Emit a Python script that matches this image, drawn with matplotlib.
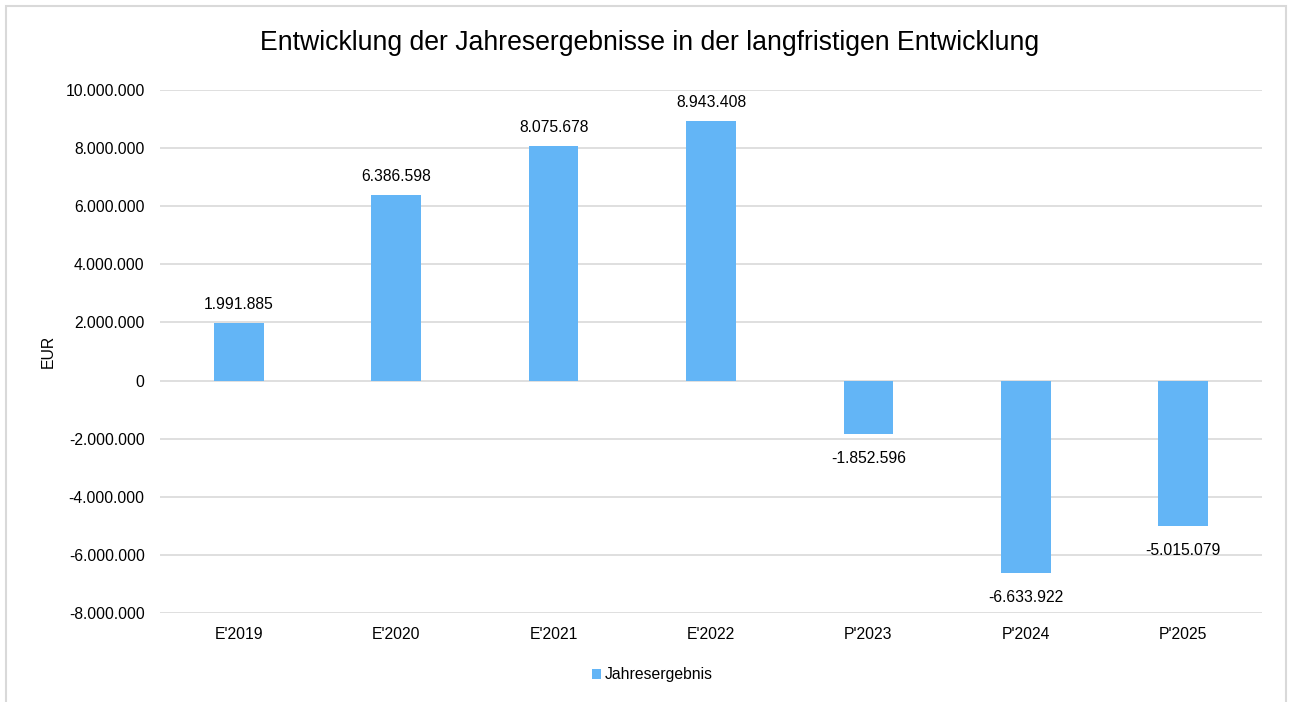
import matplotlib.pyplot as plt
from matplotlib.patches import Rectangle
from matplotlib.ticker import FuncFormatter

plt.rcParams['font.family'] = ['Liberation Sans', 'DejaVu Sans']

categories = ["E'2019", "E'2020", "E'2021", "E'2022", "P'2023", "P'2024", "P'2025"]
jahresergebnis = [1991885, 6386598, 8075678, 8943408, -1852596, -6633922, -5015079]
y_ticks = [-8000000, -6000000, -4000000, -2000000, 0, 2000000, 4000000, 6000000, 8000000, 10000000]

bar_color = '#63B5F6'
grid_color = '#D9D9D9'


def de_format(v, pos=None):
    s = f"{abs(int(round(v))):,}".replace(",", ".")
    return ("-" if v < 0 else "") + s


fig = plt.figure(figsize=(12.89, 7.02), dpi=100)
ax = fig.add_axes([160 / 1289, 1 - 613 / 702, 1102 / 1289, 523 / 702])

x = list(range(len(categories)))
ax.bar(x, jahresergebnis, width=0.315, color=bar_color, zorder=3, label='Jahresergebnis')

ax.set_xlim(-0.5, len(categories) - 0.5)
ax.set_ylim(-8000000, 10000000)
ax.set_yticks(y_ticks)
ax.yaxis.set_major_formatter(FuncFormatter(de_format))
ax.set_xticks(x)
ax.set_xticklabels(categories)
ax.grid(axis='y', color=grid_color, linewidth=1.2, zorder=0)
ax.tick_params(length=0, labelsize=11.3, colors='#000000')
ax.tick_params(axis='y', pad=11)
ax.tick_params(axis='x', pad=10)
for s in ax.spines.values():
    s.set_visible(False)

for xi, v in zip(x, jahresergebnis):
    if v >= 0:
        ax.annotate(de_format(v), (xi, v), xytext=(0, 8), textcoords='offset points',
                    ha='center', va='bottom', fontsize=11.3)
    else:
        ax.annotate(de_format(v), (xi, v), xytext=(0, -12), textcoords='offset points',
                    ha='center', va='top', fontsize=11.3)

ax.set_ylabel('EUR', fontsize=11.3)
ax.yaxis.set_label_coords(-104 / 1102, 0.5)

fig.text(650 / 1289, 1 - 43 / 702, 'Entwicklung der Jahresergebnisse in der langfristigen Entwicklung',
         ha='center', va='center', fontsize=19.2)

leg = fig.legend(loc='center', bbox_to_anchor=(652 / 1289, 1 - 675 / 702), frameon=False,
                 fontsize=11.3, handlelength=0.6, handleheight=0.6, handletextpad=0.2)

fig.patches.append(Rectangle((6 / 1289, -0.01), 1280 / 1289, 1 - 6 / 702 + 0.01,
                             transform=fig.transFigure, fill=False,
                             edgecolor='#D9D9D9', linewidth=1.5))

fig.savefig('out.png', dpi=100)
